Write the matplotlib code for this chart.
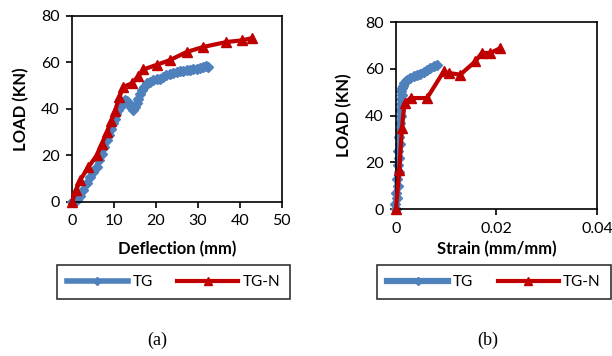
import matplotlib
matplotlib.use("Agg")
import matplotlib.pyplot as plt

plt.rcParams['font.family'] = ['Lato', 'DejaVu Sans']

# (a) load vs deflection
tg_defl = [0, 0.6, 1.1, 1.8, 2.7, 3.5, 4.3, 5.1, 5.9, 6.5, 7.1, 7.7, 8.3, 8.9, 9.4, 9.8,
           10.2, 10.6, 11.0, 11.4, 11.8, 12.2, 12.6, 13.0, 13.4, 14.0, 14.6, 15.0, 15.4,
           15.8, 16.2, 16.6, 17.2, 17.8, 18.6, 19.4, 20.2, 21.0, 21.8, 22.5, 23.3, 24.1,
           24.9, 25.7, 26.5, 27.3, 28.1, 28.9, 29.7, 30.5, 31.3, 32.0, 32.5]
tg_load_a = [0, 0.3, 0.7, 2.5, 5.0, 8.0, 10.7, 13.0, 15.0, 18.0, 20.8, 23.5, 26.5, 29.0,
             31.5, 33.8, 35.8, 37.7, 39.4, 41.0, 42.3, 43.1, 43.7, 43.3, 42.3, 40.8, 39.4,
             40.9, 42.5, 44.4, 46.3, 48.0, 49.6, 51.0, 51.8, 52.3, 52.7, 53.0, 53.8, 54.5,
             55.1, 55.6, 56.0, 56.3, 56.5, 56.6, 56.9, 57.1, 57.3, 57.6, 57.9, 58.3, 58.0]
tgn_defl = [0, 1.0, 1.9, 3.9, 5.9, 7.1, 8.3, 9.4, 10.2, 11.3, 12.2, 14.2, 15.8, 17.0,
            20.2, 23.3, 27.3, 31.3, 36.8, 40.4, 43.0]
tgn_load_a = [0, 5.0, 9.3, 15.0, 20.0, 25.0, 30.0, 35.0, 39.0, 45.0, 49.5, 51.0, 54.0,
              57.0, 59.0, 61.0, 64.5, 66.7, 68.8, 69.5, 70.5]

# (b) load vs strain
tg_strain = [0, -0.0002, 0.0003, 0.0001, 0.0004, 0.0002, 0.0006, 0.0004, 0.0007, 0.0005,
             0.0008, 0.0006, 0.0009, 0.0008, 0.0010, 0.0009, 0.0011, 0.0010, 0.0012,
             0.0011, 0.0012, 0.0014, 0.0016, 0.0019, 0.0022, 0.0028, 0.0035, 0.0042,
             0.0048, 0.0055, 0.0062, 0.0068, 0.0075, 0.0082]
tg_load_b = [0, 2.0, 4.5, 7.0, 10.0, 13.0, 16.0, 19.0, 22.0, 25.0, 28.0, 31.0, 34.0, 37.0,
             40.0, 42.5, 45.0, 47.0, 49.0, 50.5, 51.8, 52.8, 53.8, 54.6, 55.3, 56.1, 56.8,
             57.3, 57.9, 58.7, 59.6, 60.2, 61.0, 61.8]
tgn_strain = [0, 0.00066, 0.0012, 0.0017, 0.0029, 0.0062, 0.0095, 0.0105, 0.0128, 0.0158,
              0.0171, 0.0188, 0.0208]
tgn_load_b = [0, 16.8, 34.7, 45.4, 47.5, 47.5, 58.9, 58.2, 57.5, 63.2, 66.8, 66.8, 68.9]

blue = '#4F81BD'
red = '#C00000'

fig = plt.figure(figsize=(6.12, 3.56), dpi=100)
ax1 = fig.add_axes([0.1176, 0.4326, 0.343, 0.5225])
ax2 = fig.add_axes([0.647, 0.4129, 0.3284, 0.525])

ax1.plot(tg_defl, tg_load_a, color=blue, lw=4, marker='D', ms=5, label='TG', zorder=2)
ax1.plot(tgn_defl, tgn_load_a, color=red, lw=3, marker='^', ms=7, label='TG-N', zorder=3)
ax1.set_xlim(0, 50)
ax1.set_ylim(0, 80)
ax1.set_xticks([0, 10, 20, 30, 40, 50])
ax1.set_yticks([0, 20, 40, 60, 80])
ax1.set_xlabel('Deflection (mm)', fontsize=12, fontweight='bold')
ax1.set_ylabel('LOAD (KN)', fontsize=12, fontweight='bold')
ax1.xaxis.set_label_coords(0.5, -0.21)
ax1.yaxis.set_label_coords(-0.205, 0.5)

ax2.plot(tg_strain, tg_load_b, color=blue, lw=4.5, marker='D', ms=5.5, label='TG', zorder=2)
ax2.plot(tgn_strain, tgn_load_b, color=red, lw=3, marker='^', ms=7, label='TG-N', zorder=3)
ax2.set_xlim(0, 0.04)
ax2.set_ylim(0, 80)
ax2.set_xticks([0, 0.02, 0.04])
ax2.set_xticklabels(['0', '0.02', '0.04'])
ax2.set_yticks([0, 20, 40, 60, 80])
ax2.set_xlabel('Strain (mm/mm)', fontsize=12, fontweight='bold')
ax2.set_ylabel('LOAD (KN)', fontsize=12, fontweight='bold')
ax2.xaxis.set_label_coords(0.5, -0.17)
ax2.yaxis.set_label_coords(-0.215, 0.5)

for ax in (ax1, ax2):
    for sp in ax.spines.values():
        sp.set_linewidth(1.2)
        sp.set_color('black')
    ax.tick_params(direction='out', length=4, width=1.2, labelsize=11.5, pad=5)
    for line in ax.lines:
        line.set_clip_on(False)

leg_boxes = [(60, 287), (383, 605)]
for ax, (x0, x1) in zip((ax1, ax2), leg_boxes):
    h, l = ax.get_legend_handles_labels()
    leg = fig.legend(h, l, loc='center', ncol=2, fontsize=11, frameon=True,
                     fancybox=False, edgecolor='black', handlelength=4,
                     columnspacing=1.6, handletextpad=0.3, borderpad=0.65,
                     markerscale=0.75, bbox_to_anchor=((x0 + x1) / 2 / 612, 1 - 282 / 356))
    leg.get_frame().set_linewidth(1.2)

fig.text(157 / 612, 1 - 340 / 356, '(a)', ha='center', va='center',
         fontsize=13, family=['Liberation Serif'])
fig.text(488 / 612, 1 - 340 / 356, '(b)', ha='center', va='center',
         fontsize=13, family=['Liberation Serif'])

fig.savefig('out.png', dpi=100)
